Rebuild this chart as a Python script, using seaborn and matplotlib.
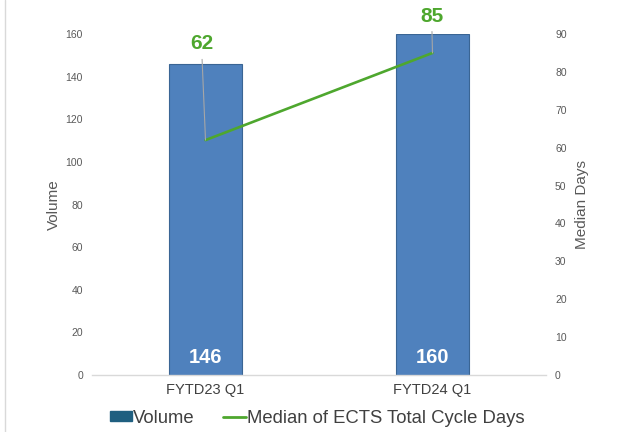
import numpy as np
import pandas as pd
import matplotlib
matplotlib.use("Agg")
import matplotlib.pyplot as plt
from matplotlib.lines import Line2D
from matplotlib.patches import Patch
import seaborn as sns

categories = ["FYTD23 Q1", "FYTD24 Q1"]
volume = [146, 160]
median_days = [62, 85]

sns.set_theme(style="white")
plt.rcParams['font.family'] = ['Liberation Sans', 'DejaVu Sans']

BAR = "#4F81BD"
BAR_EDGE = "#3A6594"
GREEN = "#4EA72E"
GRAY = "#595959"

fig = plt.figure(figsize=(6.23, 4.32), dpi=100)
ax = fig.add_axes([0.1477, 0.1319, 0.7287, 0.7894])

df = pd.DataFrame({"cat": categories, "vol": volume, "days": median_days})
sns.barplot(data=df, x="cat", y="vol", ax=ax, color=BAR, width=0.32,
            edgecolor=BAR_EDGE, linewidth=0.8, saturation=1)
ax.set_ylim(0, 160)
ax.set_yticks(np.arange(0, 161, 20))
ax.set_xlim(-0.5, len(categories) - 0.5)
ax.set_xlabel("")
ax.set_ylabel("Volume", fontsize=11, color=GRAY, labelpad=3)
ax.tick_params(axis="y", length=0, labelsize=7.5, labelcolor=GRAY, pad=6.5)
ax.tick_params(axis="x", length=0, labelsize=10.5, labelcolor="#404040", pad=6)
for s in ["top", "right", "left"]:
    ax.spines[s].set_visible(False)
ax.spines["bottom"].set_color("#d9d9d9")
ax.spines["bottom"].set_linewidth(1.0)

for i, v in enumerate(volume):
    ax.text(i, 8.4, f"{v}", ha="center", va="center", color="white",
            fontsize=14.5, fontweight="bold")

ax2 = ax.twinx()
pos = np.arange(len(categories))
sns.lineplot(x=pos, y=median_days, ax=ax2, color=GREEN, linewidth=1.9)
ax2.set_ylim(0, 90)
ax2.set_yticks(np.arange(0, 91, 10))
ax2.set_xlim(-0.5, len(categories) - 0.5)
ax2.set_ylabel("Median Days", fontsize=11, color=GRAY, labelpad=6)
ax2.tick_params(axis="y", length=0, labelsize=7.5, labelcolor=GRAY, pad=6.5)
for s in ["top", "right", "left", "bottom"]:
    ax2.spines[s].set_visible(False)

# data labels with leader lines
offsets = [(-0.018, 25.4), (-0.004, 9.75)]
for i, d in enumerate(median_days):
    dx, dy = offsets[i]
    ax2.annotate(f"{d}", xy=(i, d), xytext=(i + dx, d + dy),
                 ha="center", va="center", color=GREEN, fontsize=15,
                 fontweight="bold", annotation_clip=False,
                 arrowprops=dict(arrowstyle="-", color="#a6a6a6", lw=0.8,
                                 shrinkA=2, shrinkB=0))

handles = [Patch(facecolor="#1F5F80", edgecolor="#1F5F80"),
           Line2D([0], [0], color=GREEN, lw=2)]
fig.legend(handles, ["Volume", "Median of ECTS Total Cycle Days"],
           loc="center", bbox_to_anchor=(0.509, 0.032), ncol=2, frameon=False,
           fontsize=13.3, labelcolor="#404040", handlelength=1.2,
           handleheight=0.45, handletextpad=0.06, columnspacing=1.55)

fig.add_artist(Line2D([0.008, 0.008], [0, 1], color="#d9d9d9", lw=1,
                      transform=fig.transFigure))

fig.savefig("out.png", dpi=100)
